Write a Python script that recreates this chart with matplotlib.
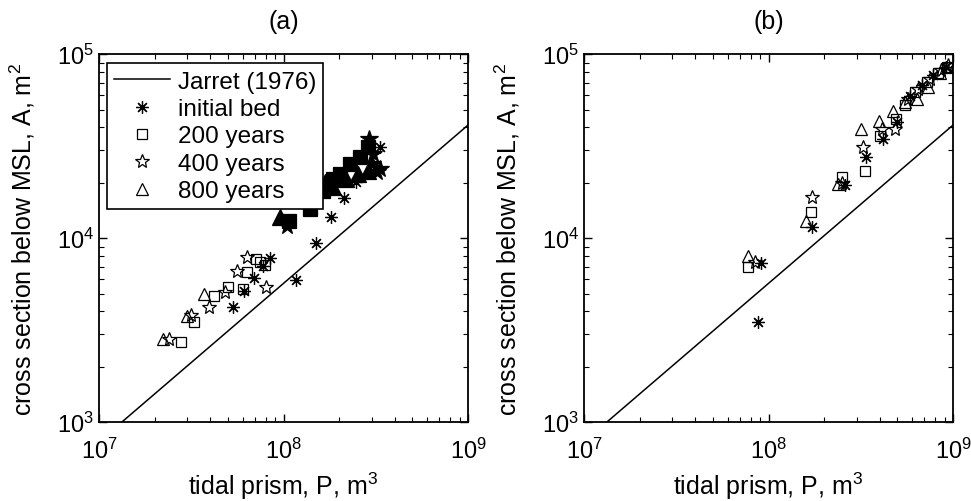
import numpy as np
import matplotlib.pyplot as plt
from matplotlib.legend_handler import HandlerLine2D

plt.rcParams['font.family'] = ['Liberation Sans', 'DejaVu Sans']
plt.rcParams['mathtext.fontset'] = 'custom'
plt.rcParams['mathtext.rm'] = 'Liberation Sans'
plt.rcParams['mathtext.it'] = 'Liberation Sans:italic'
plt.rcParams['mathtext.bf'] = 'Liberation Sans:bold'

# Jarret (1976) relation, end points
jarret_P = [1e7, 1e9]
jarret_A = [784, 4.12e4]

# ---- panel (a) ----
a_bed_P = [5.32e7, 6.1e7, 6.92e7, 7.74e7, 8.45e7, 1.17e8, 1.5e8, 1.81e8, 2.13e8, 2.47e8, 3.34e8]
a_bed_A = [4.22e3, 5.15e3, 6.07e3, 7.04e3, 7.79e3, 5.91e3, 9.4e3, 1.3e4, 1.65e4, 2.01e4, 3.12e4]

a_200_P = [2.78e7, 3.27e7, 4.2e7, 5.0e7, 6.03e7, 6.34e7, 7.1e7, 7.43e7, 7.95e7]
a_200_A = [2.72e3, 3.49e3, 4.84e3, 5.42e3, 5.28e3, 6.54e3, 7.69e3, 7.42e3, 7.13e3]
a_400_P = [2.39e7, 3.15e7, 3.95e7, 4.82e7, 5.6e7, 6.34e7, 8.04e7]
a_400_A = [2.82e3, 3.82e3, 4.22e3, 5.09e3, 6.62e3, 7.89e3, 5.42e3]
a_800_P = [2.22e7, 3.0e7, 3.71e7]
a_800_A = [2.82e3, 3.77e3, 4.96e3]

# dark (filled) points in the upper cluster of panel (a)
a_200f_P = [1.07e8, 1.39e8, 1.64e8, 1.72e8, 1.85e8, 2.02e8, 2.29e8, 2.6e8, 2.87e8]
a_200f_A = [1.24e4, 1.44e4, 1.8e4, 1.92e4, 2.09e4, 2.23e4, 2.52e4, 2.75e4, 3.15e4]
a_400f_P = [1.05e8, 2.9e8, 3.21e8, 3.34e8, 3.02e8, 3.06e8]
a_400f_A = [1.16e4, 3.45e4, 2.28e4, 2.37e4, 2.52e4, 2.86e4]
a_800f_P = [9.58e7, 1.68e8, 1.85e8, 2.17e8, 2.53e8, 2.87e8]
a_800f_A = [1.3e4, 2.01e4, 1.89e4, 2.1e4, 2.23e4, 2.31e4]

# ---- panel (b) ----
b_bed_P = [8.77e7, 9.06e7, 1.72e8, 2.6e8, 3.38e8, 4.17e8, 4.98e8, 5.85e8, 6.79e8, 7.79e8, 9.16e8]
b_bed_A = [3.49e3, 7.3e3, 1.15e4, 1.94e4, 2.75e4, 3.45e4, 4.27e4, 5.91e4, 6.79e4, 7.7e4, 8.5e4]
b_200_P = [7.74e7, 1.7e8, 2.51e8, 3.33e8, 4.03e8, 4.91e8, 5.49e8, 6.22e8, 7.23e8, 8.29e8, 9.29e8]
b_200_A = [6.95e3, 1.38e4, 2.15e4, 2.31e4, 3.58e4, 4.43e4, 5.28e4, 6.21e4, 7.05e4, 7.89e4, 8.5e4]
b_400_P = [8.45e7, 1.72e8, 2.51e8, 3.25e8, 4.13e8, 4.85e8, 5.7e8, 6.47e8, 7.52e8, 8.62e8, 9.4e8]
b_400_A = [7.41e3, 1.67e4, 2.0e4, 3.12e4, 3.91e4, 3.91e4, 5.69e4, 6.46e4, 7.31e4, 8.18e4, 8.7e4]
b_800_P = [7.74e7, 1.6e8, 2.38e8, 3.18e8, 3.97e8, 4.73e8, 5.49e8, 6.38e8, 7.33e8, 8.5e8, 9.16e8]
b_800_A = [7.98e3, 1.24e4, 1.96e4, 3.91e4, 4.33e4, 4.9e4, 5.48e4, 5.69e4, 6.62e4, 7.89e4, 8.5e4]

ast = (8, 2, 0)
sty = dict(linestyle='none', color='k', markeredgewidth=0.9)


class LeftMarker(HandlerLine2D):
    # marker drawn near the left end of the legend sample, like the original
    def get_xdata(self, legend, xdescent, ydescent, width, height, fontsize):
        xdata, xm = super().get_xdata(legend, xdescent, ydescent, width, height, fontsize)
        return xdata, np.array([-xdescent + 0.15 * width])


def style_axes(ax, title):
    ax.set_xscale('log')
    ax.set_yscale('log')
    ax.set_xlim(1e7, 1e9)
    ax.set_ylim(1e3, 1e5)
    ax.tick_params(which='both', direction='in', top=True, right=True, labelsize=17)
    ax.tick_params(which='major', length=6, width=1)
    ax.tick_params(which='minor', length=3.5, width=0.8)
    ax.tick_params(axis='x', pad=11)
    for s in ax.spines.values():
        s.set_linewidth(1.3)
    ax.set_xlabel('tidal prism, P, m$^3$', fontsize=18, labelpad=5)
    ax.set_ylabel('cross section below MSL, A, m$^2$', fontsize=18, labelpad=14)
    ax.set_title(title, fontsize=18, pad=19)


fig = plt.figure(figsize=(9.71, 5.02), dpi=100)
ax1 = fig.add_axes([0.102, 0.157, 0.380, 0.733])
ax2 = fig.add_axes([0.6015, 0.157, 0.380, 0.733])

# panel (a)
ax1.plot(jarret_P, jarret_A, 'k-', linewidth=1.1, label='Jarret (1976)')
ax1.plot(a_bed_P, a_bed_A, marker=ast, markersize=9, label='initial bed', **sty)
ax1.plot(a_200_P, a_200_A, marker='s', markersize=7, markerfacecolor='none', label='200 years', **sty)
ax1.plot(a_400_P, a_400_A, marker='*', markersize=10, markerfacecolor='none', label='400 years', **sty)
ax1.plot(a_800_P, a_800_A, marker='^', markersize=9, markerfacecolor='none', label='800 years', **sty)
ax1.plot(a_200f_P, a_200f_A, marker='s', markersize=10, markerfacecolor='k', **sty)
ax1.plot(a_400f_P, a_400f_A, marker='*', markersize=13, markerfacecolor='k', **sty)
ax1.plot(a_800f_P, a_800f_A, marker='^', markersize=12, markerfacecolor='k', **sty)
style_axes(ax1, '(a)')
leg = ax1.legend(loc='upper left', bbox_to_anchor=(0.022, 0.975), fontsize=17.5,
                 frameon=True, fancybox=False, framealpha=1, edgecolor='k',
                 handlelength=2.3, labelspacing=0.22, borderpad=0.3,
                 handletextpad=0.3, borderaxespad=0.0, numpoints=1,
                 handler_map={plt.Line2D: LeftMarker()})
leg.get_frame().set_linewidth(1.2)
leg.set_zorder(5)

# panel (b)
ax2.plot(jarret_P, jarret_A, 'k-', linewidth=1.1)
ax2.plot(b_bed_P, b_bed_A, marker=ast, markersize=9, **sty)
ax2.plot(b_200_P, b_200_A, marker='s', markersize=7, markerfacecolor='none', **sty)
ax2.plot(b_400_P, b_400_A, marker='*', markersize=10, markerfacecolor='none', **sty)
ax2.plot(b_800_P, b_800_A, marker='^', markersize=9, markerfacecolor='none', **sty)
style_axes(ax2, '(b)')

fig.savefig('out.png', dpi=100)
